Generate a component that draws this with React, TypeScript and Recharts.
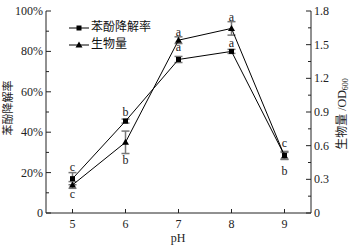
import React from 'react';
import { LineChart, Line, XAxis, YAxis, ErrorBar, LabelList, Legend } from 'recharts';

const phValues = [5, 6, 7, 8, 9];
const phenolRate = [17, 45.5, 76, 80, 28.5];
const phenolErr = [3, 1, 1.5, 1, 2];
const phenolLetters = ['c', 'b', 'a', 'a', 'c'];
const biomassOD = [0.25, 0.63, 1.54, 1.645, 0.51];
const biomassErr = [0.03, 0.1, 0.03, 0.06, 0.03];
const biomassLetters = ['c', 'b', 'a', 'a', 'b'];

const xTicks = [5, 6, 7, 8, 9];
const leftTicks = [0, 10, 20, 30, 40, 50, 60, 70, 80, 90, 100];
const rightTicks = [0, 0.15, 0.3, 0.45, 0.6, 0.75, 0.9, 1.05, 1.2, 1.35, 1.5, 1.65, 1.8];

const data = phValues.map((ph, i) => ({
  ph,
  phenol: phenolRate[i],
  phenolErr: phenolErr[i],
  phenolLetter: phenolLetters[i],
  biomass: biomassOD[i],
  biomassErr: biomassErr[i],
  biomassLetter: biomassLetters[i],
}));

const FONT = "'Liberation Serif', 'Noto Sans CJK SC', serif";
const AXIS = '#222';

// letter offsets from the marker centre (px)
const phenolDy = [-12, -9, -12, -8, -12];
const biomassDy = [9, 18, -8, -11, 15];

const LeftTick = (props: any) => {
  const { x, y, payload } = props;
  const v = payload.value;
  const major = v % 20 === 0;
  return (
    <g>
      <line x1={x} x2={x + (major ? 5 : 3)} y1={y} y2={y} stroke={AXIS} />
      {major && (
        <text x={x - 3} y={y} dy={4} textAnchor="end" fontSize={12} fontFamily={FONT} fill="#222">
          {v === 0 ? '0' : `${v}%`}
        </text>
      )}
    </g>
  );
};

const RightTick = (props: any) => {
  const { x, y, payload } = props;
  const v = payload.value;
  const major = Math.round(v * 100) % 30 === 0;
  return (
    <g>
      <line x1={x} x2={x - (major ? 5 : 3)} y1={y} y2={y} stroke={AXIS} />
      {major && (
        <text x={x + 3} y={y} dy={4} textAnchor="start" fontSize={12} fontFamily={FONT} fill="#222">
          {v === 0 ? '0' : v.toFixed(1)}
        </text>
      )}
    </g>
  );
};

const BottomTick = (props: any) => {
  const { x, y, payload } = props;
  return (
    <g>
      <line x1={x} x2={x} y1={y} y2={y - 4} stroke={AXIS} />
      <text x={x} y={y} dy={15} textAnchor="middle" fontSize={12} fontFamily={FONT} fill="#222">
        {payload.value}
      </text>
    </g>
  );
};

const SquareDot = (props: any) => {
  const { cx, cy, index } = props;
  return <rect key={`s${index}`} x={cx - 2.5} y={cy - 2.5} width={5} height={5} fill="#000" />;
};

const TriangleDot = (props: any) => {
  const { cx, cy, index } = props;
  return (
    <polygon
      key={`t${index}`}
      points={`${cx},${cy - 3.5} ${cx - 3.5},${cy + 2.5} ${cx + 3.5},${cy + 2.5}`}
      fill="#000"
    />
  );
};

const letterContent = (offsets: number[]) => (props: any) => {
  const { x, y, value, index } = props;
  return (
    <text x={x} y={y + offsets[index]} dy={4} textAnchor="middle" fontSize={12} fontFamily={FONT} fill="#222">
      {value}
    </text>
  );
};

const LegendBox = () => (
  <div style={{ fontFamily: FONT, fontSize: 12, color: '#111', lineHeight: '17px' }}>
    <div style={{ display: 'flex', alignItems: 'center', height: 17 }}>
      <svg width={22} height={10}>
        <line x1={0} x2={20} y1={5} y2={5} stroke="#000" />
        <rect x={7.5} y={2.5} width={5} height={5} fill="#000" />
      </svg>
      <span>苯酚降解率</span>
    </div>
    <div style={{ display: 'flex', alignItems: 'center', height: 17 }}>
      <svg width={22} height={10}>
        <line x1={0} x2={20} y1={5} y2={5} stroke="#000" />
        <polygon points="10,1.5 6.5,7.5 13.5,7.5" fill="#000" />
      </svg>
      <span>生物量</span>
    </div>
  </div>
);

export default function App() {
  return (
    <div style={{ position: 'absolute', left: 0, top: 0, background: '#fff' }}>
      <LineChart width={356} height={248} data={data} margin={{ top: 11, right: 0, bottom: 0, left: 0 }}>
        <XAxis
          dataKey="ph"
          type="number"
          domain={[4.5, 9.5]}
          ticks={xTicks}
          height={35}
          stroke={AXIS}
          tickLine={false}
          tickSize={0}
          tickMargin={0}
          tick={<BottomTick />}
          interval={0}
        />
        <YAxis
          yAxisId="left"
          domain={[0, 100]}
          ticks={leftTicks}
          width={46}
          stroke={AXIS}
          tickLine={false}
          tickSize={0}
          tickMargin={0}
          tick={<LeftTick />}
          interval={0}
        />
        <YAxis
          yAxisId="right"
          orientation="right"
          domain={[0, 1.8]}
          ticks={rightTicks}
          width={45}
          stroke={AXIS}
          tickLine={false}
          tickSize={0}
          tickMargin={0}
          tick={<RightTick />}
          interval={0}
        />
        <Legend
          layout="vertical"
          align="center"
          verticalAlign="middle"
          content={() => <LegendBox />}
          wrapperStyle={{ position: 'absolute', left: 69, top: 19, width: 'auto', height: 'auto' }}
        />
        <Line
          yAxisId="left"
          dataKey="phenol"
          stroke="#000"
          strokeWidth={1}
          dot={SquareDot}
          activeDot={false}
          isAnimationActive={false}
        >
          <ErrorBar dataKey="phenolErr" width={4} stroke="#777" direction="y" />
          <LabelList dataKey="phenolLetter" content={letterContent(phenolDy)} />
        </Line>
        <Line
          yAxisId="right"
          dataKey="biomass"
          stroke="#000"
          strokeWidth={1}
          dot={TriangleDot}
          activeDot={false}
          isAnimationActive={false}
        >
          <ErrorBar dataKey="biomassErr" width={4} stroke="#777" direction="y" />
          <LabelList dataKey="biomassLetter" content={letterContent(biomassDy)} />
        </Line>
        <text x={8} y={108} transform="rotate(-90 8 108)" textAnchor="middle" dominantBaseline="central" fontSize={11} fontFamily={FONT} fill="#222">
          苯酚降解率
        </text>
        <text x={342} y={114} transform="rotate(-90 342 114)" textAnchor="middle" dominantBaseline="central" fontSize={12} fontFamily={FONT} fill="#222">
          生物量 /OD<tspan fontSize={8} dy={3}>600</tspan>
        </text>
        <text x={178} y={242} textAnchor="middle" fontSize={12} fontFamily={FONT} fill="#222">
          pH
        </text>
      </LineChart>
    </div>
  );
}
